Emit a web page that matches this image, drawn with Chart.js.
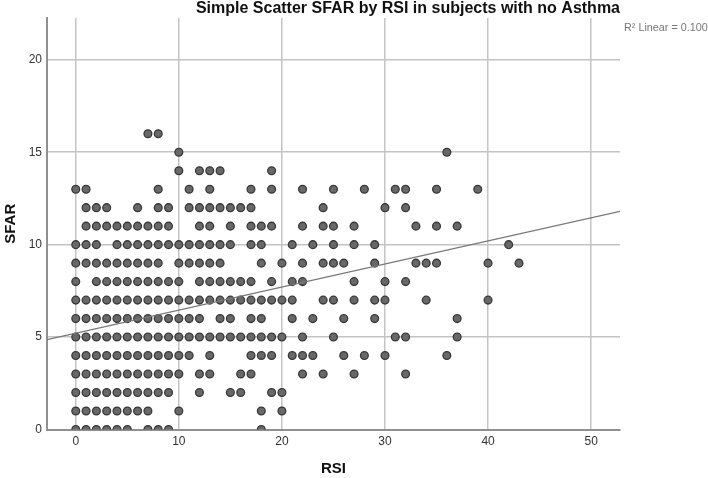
<!DOCTYPE html>
<html>
<head>
  <title>Simple Scatter SFAR by RSI</title>
  <script src="https://cdn.jsdelivr.net/npm/chart.js"></script>
  <style>
    html, body { margin: 0; padding: 0; background: #fff; }
    #wrap { width: 708px; height: 478px; }
  </style>
</head>
<body>
  <div id="wrap"><canvas id="scatter"></canvas></div>

  <script>
    // RSI values seen at each SFAR level
    const sfar16 = [7, 8];
    const sfar15 = [10, 36];
    const sfar14 = [10, 12, 13, 14, 19];
    const sfar13 = [0, 1, 8, 11, 13, 17, 19, 22, 25, 28, 31, 32, 35, 39];
    const sfar12 = [1, 2, 3, 6, 8, 9, 11, 12, 13, 14, 15, 16, 17, 24, 30, 32];
    const sfar11 = [1, 2, 3, 4, 5, 6, 7, 8, 9, 12, 13, 15, 17, 18, 19, 22, 24, 25, 27, 33, 35, 37];
    const sfar10 = [0, 1, 2, 4, 5, 6, 7, 8, 9, 10, 11, 12, 13, 14, 15, 17, 18, 21, 23, 25, 27, 29, 42];
    const sfar9 = [0, 1, 2, 3, 4, 5, 6, 7, 8, 10, 11, 12, 13, 14, 18, 20, 22, 24, 25, 26, 29, 33, 34, 35, 40, 43];
    const sfar8 = [0, 2, 3, 4, 5, 6, 7, 8, 9, 10, 12, 13, 14, 15, 16, 17, 19, 21, 22, 27, 30, 32];
    const sfar7 = [0, 1, 2, 3, 4, 5, 6, 7, 8, 9, 10, 11, 12, 13, 14, 15, 16, 17, 18, 19, 20, 21, 24, 25, 27, 29, 30, 34, 40];
    const sfar6 = [0, 1, 2, 3, 4, 5, 6, 7, 8, 9, 10, 11, 12, 14, 15, 17, 18, 21, 23, 26, 29, 37];
    const sfar5 = [0, 1, 2, 3, 4, 5, 6, 7, 8, 9, 10, 11, 12, 13, 14, 15, 16, 17, 18, 19, 20, 22, 25, 31, 32, 37];
    const sfar4 = [0, 1, 2, 3, 4, 5, 6, 7, 8, 9, 10, 11, 13, 17, 18, 19, 21, 22, 23, 26, 28, 30, 36];
    const sfar3 = [0, 1, 2, 3, 4, 5, 6, 7, 8, 9, 10, 12, 13, 16, 17, 22, 24, 27, 32];
    const sfar2 = [0, 1, 2, 3, 4, 5, 6, 7, 8, 9, 12, 15, 16, 19, 20];
    const sfar1 = [0, 1, 2, 3, 4, 5, 6, 7, 10, 18, 20];
    const sfar0 = [0, 1, 2, 3, 4, 5, 7, 8, 9, 18];

    const sfarRows = [sfar0, sfar1, sfar2, sfar3, sfar4, sfar5, sfar6, sfar7, sfar8,
                      sfar9, sfar10, sfar11, sfar12, sfar13, sfar14, sfar15, sfar16];

    // fit line ends, read where it meets the plot edges
    const fitRsi = [-2.79, 52.8];
    const fitSfar = [4.86, 11.8];

    const xTicks = [0, 10, 20, 30, 40, 50];
    const yTicks = [0, 5, 10, 15, 20];

    const points = [];
    sfarRows.forEach((row, sfar) => row.forEach(rsi => points.push({ x: rsi, y: sfar })));

    const fontFamily = '"Liberation Sans", Arial, sans-serif';

    const r2Label = {
      id: 'r2Label',
      afterDraw(chart) {
        const ctx = chart.ctx;
        ctx.save();
        ctx.font = '10.8px ' + fontFamily;
        ctx.fillStyle = '#777';
        ctx.textBaseline = 'middle';
        ctx.fillText('R² Linear = 0.100', 624, 28);
        ctx.restore();
      }
    };

    new Chart(document.getElementById('scatter'), {
      type: 'scatter',
      plugins: [r2Label],
      data: {
        datasets: [
          {
            label: 'Fit',
            type: 'line',
            data: fitRsi.map((x, i) => ({ x: x, y: fitSfar[i] })),
            borderColor: '#777',
            borderWidth: 1.2,
            pointRadius: 0,
            order: 0
          },
          {
            label: 'Subjects',
            data: points,
            backgroundColor: '#686868',
            borderColor: '#383838',
            borderWidth: 1.3,
            pointRadius: 3.9,
            order: 1
          }
        ]
      },
      options: {
        responsive: true,
        maintainAspectRatio: false,
        animation: false,
        layout: { padding: { top: 0, right: 88, bottom: 0, left: 0 } },
        plugins: {
          legend: { display: false },
          tooltip: { enabled: false },
          title: {
            display: true,
            text: 'Simple Scatter SFAR by RSI in subjects with no Asthma',
            align: 'end',
            fullSize: false,
            color: '#111',
            font: { family: fontFamily, size: 16, weight: 'bold', lineHeight: 1.1 },
            padding: { top: 0, bottom: 0.4 }
          }
        },
        scales: {
          x: {
            type: 'linear',
            min: -2.79,
            max: 52.8,
            afterBuildTicks(axis) {
              axis.ticks = xTicks.map(v => ({ value: v }));
            },
            afterFit(axis) { axis.height = 48.5; },
            grid: { color: '#c4c4c4', lineWidth: 1.5, drawTicks: false },
            border: { display: true, color: '#909090', width: 2 },
            ticks: { color: '#333', padding: 5, maxRotation: 0, font: { family: fontFamily, size: 12 } },
            title: { display: true, text: 'RSI', color: '#111', padding: { top: 14, bottom: 0 },
                     font: { family: fontFamily, size: 15, weight: 'bold' } }
          },
          y: {
            type: 'linear',
            min: 0,
            max: 22.26,
            afterBuildTicks(axis) {
              axis.ticks = yTicks.map(v => ({ value: v }));
            },
            afterFit(axis) { axis.width = 47; },
            grid: { color: '#c4c4c4', lineWidth: 1.5, drawTicks: false },
            border: { display: true, color: '#909090', width: 2 },
            ticks: { color: '#333', padding: 5, font: { family: fontFamily, size: 12 } },
            title: { display: true, text: 'SFAR', color: '#111', padding: { top: 2, bottom: 8 },
                     font: { family: fontFamily, size: 15, weight: 'bold' } }
          }
        }
      }
    });
  </script>
</body>
</html>
